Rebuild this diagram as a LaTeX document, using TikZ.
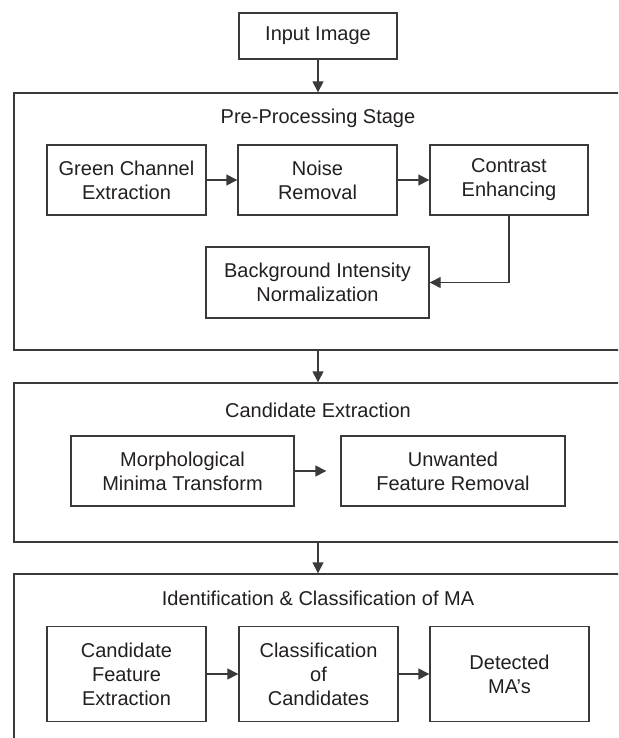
\documentclass[tikz,border=0pt]{standalone}
\usepackage{fontspec}
\setmainfont{Liberation Sans}
\usetikzlibrary{arrows.meta}
\definecolor{ink}{HTML}{231F20}
\definecolor{linec}{HTML}{3A3A3A}
\tikzset{
  stepbox/.style={draw=linec, line width=1.4pt, align=center, inner sep=0pt, text=ink,
    font=\fontsize{20}{24}\selectfont},
  groupbox/.style={draw=linec, line width=1.4pt, inner sep=0pt},
  grouptitle/.style={inner sep=0pt, text=ink, font=\fontsize{20}{24}\selectfont},
  conn/.style={draw=linec, line width=1.4pt, -{Triangle[length=11pt,width=11pt]}},
}
\begin{document}
\begin{tikzpicture}[x=1pt,y=-1pt]
\useasboundingbox (0,0) rectangle (618,738);
\clip (0,0) rectangle (618,738);
\fill[white] (0,0) rectangle (618,738);

% input
\node[stepbox, minimum width=158pt, minimum height=46pt] (input) at (318,36) {Input Image};

% group boxes
\node[groupbox, minimum width=626pt, minimum height=257pt] (pre) at (327,221.5) {};
\node[groupbox, minimum width=626pt, minimum height=159pt] (cand) at (327,462.5) {};
\node[groupbox, minimum width=626pt, minimum height=186pt] (ident) at (327,667) {};

\node[grouptitle] (pretitle) at (318,118) {Pre-Processing Stage};
\node[grouptitle] (candtitle) at (318,410) {Candidate Extraction};
\node[grouptitle] (identtitle) at (318,598) {Identification \& Classification of MA};

% pre-processing
\node[stepbox, minimum width=159pt, minimum height=70pt] (green) at (126.5,180) {Green Channel\\Extraction};
\node[stepbox, minimum width=159pt, minimum height=70pt] (noise) at (317.5,180) {Noise\\Removal};
\node[stepbox, minimum width=158pt, minimum height=70pt] (contrast) at (509,180) {Contrast\\Enhancing};
\node[stepbox, minimum width=223pt, minimum height=71pt] (bg) at (317.5,282.5) {Background Intensity\\Normalization};

% candidate extraction
\node[stepbox, minimum width=223pt, minimum height=70pt] (morph) at (182.5,471) {Morphological\\Minima Transform};
\node[stepbox, minimum width=224pt, minimum height=70pt] (unw) at (453,471) {Unwanted\\Feature Removal};

% identification
\node[stepbox, minimum width=159pt, minimum height=95pt] (cfe) at (126.5,674) {Candidate\\Feature\\Extraction};
\node[stepbox, minimum width=159pt, minimum height=95pt] (cls) at (318.5,674) {Classification\\of\\Candidates};
\node[stepbox, minimum width=159pt, minimum height=95pt] (det) at (509.5,674) {Detected\\MA’s};

% connectors
\draw[conn] (input.south) -- (input.south |- pre.north);
\draw[conn] (green.east) -- (noise.west);
\draw[conn] (noise.east) -- (contrast.west);
\draw[conn] (contrast.south) |- (bg.east);
\draw[conn] (input.south |- pre.south) -- (input.south |- cand.north);
\draw[conn] (morph.east) -- ([xshift=-14pt]unw.west);
\draw[conn] (input.south |- cand.south) -- (input.south |- ident.north);
\draw[conn] (cfe.east) -- (cls.west);
\draw[conn] (cls.east) -- (det.west);
\end{tikzpicture}
\end{document}
